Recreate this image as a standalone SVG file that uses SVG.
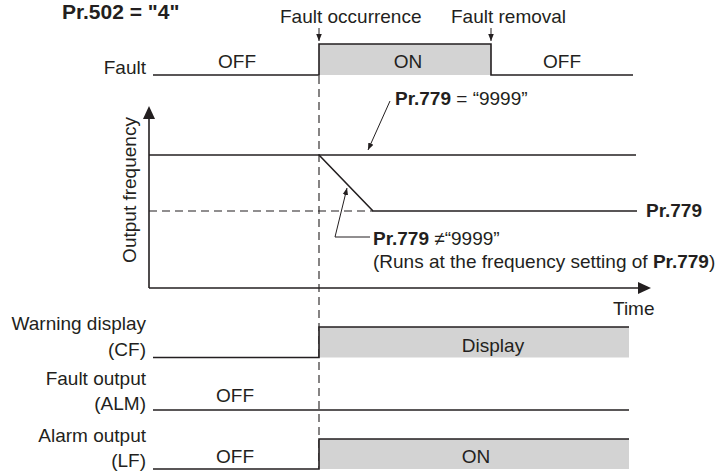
<svg xmlns="http://www.w3.org/2000/svg" width="726" height="473" viewBox="0 0 726 473">
<defs>
<style>
text{font-family:"Liberation Sans",Arial,sans-serif;font-size:19px;fill:#231f20}
.b{font-weight:bold}
.ln{fill:none;stroke:#231f20;stroke-width:1.6}
.thin{fill:none;stroke:#231f20;stroke-width:1}
.dash{fill:none;stroke:#231f20;stroke-width:1.1;stroke-dasharray:8 5}
.sh{fill:#d3d3d3;stroke:none}
.mid{text-anchor:middle}
.end{text-anchor:end}
</style>
<marker id="ah" viewBox="0 0 10 10" refX="10" refY="5" markerWidth="7" markerHeight="7" markerUnits="userSpaceOnUse" orient="auto">
<path d="M0,1 L10,5 L0,9 Z" fill="#231f20"/>
</marker>
</defs>
<rect width="726" height="473" fill="#fff"/>

<g id="title">
<text x="62" y="19" class="b" style="font-size:21px">Pr.502 = "4"</text>
</g>

<g id="events">
<text x="280" y="23">Fault occurrence</text>
<text x="451" y="23">Fault removal</text>
<line class="thin" x1="319" y1="28" x2="319" y2="41" marker-end="url(#ah)"/>
<line class="thin" x1="491" y1="28" x2="491" y2="41" marker-end="url(#ah)"/>
</g>

<g id="guide">
<line class="dash" x1="319" y1="76" x2="319" y2="469"/>
</g>

<g id="fault-row">
<rect class="sh" x="319" y="44" width="172" height="31"/>
<path class="ln" d="M153,75 H319 V44 H491 V75 H633"/>
<text x="146" y="74" class="end">Fault</text>
<text x="237" y="68" class="mid">OFF</text>
<text x="408" y="68" class="mid">ON</text>
<text x="562" y="68" class="mid">OFF</text>
</g>

<g id="frequency-chart">
<line class="ln" x1="149" y1="118" x2="149" y2="288"/>
<path d="M149,106 L143,119 L155,119 Z" fill="#231f20"/>
<line class="ln" x1="149" y1="288" x2="639" y2="288"/>
<path d="M651,288 L638,282 L638,294 Z" fill="#231f20"/>
<text x="613" y="315">Time</text>
<text transform="translate(136,190) rotate(-90)" class="mid">Output frequency</text>
<line class="ln" x1="149" y1="155" x2="636" y2="155"/>
<line class="dash" x1="149" y1="211" x2="373" y2="211"/>
<path class="ln" d="M319,155 L373,211 H637"/>
<text x="646" y="217" class="b">Pr.779</text>
</g>

<g id="connectors">
<line class="thin" x1="390" y1="101" x2="368" y2="150" marker-end="url(#ah)"/>
<polyline class="thin" points="370,237 335,237 347,188" marker-end="url(#ah)"/>
</g>

<g id="labels">
<text x="395" y="105"><tspan class="b">Pr.779</tspan> = “9999”</text>
<text x="373" y="245"><tspan class="b">Pr.779</tspan> ≠“9999”</text>
<text x="373" y="268">(Runs at the frequency setting of <tspan class="b">Pr.779</tspan>)</text>
</g>

<g id="cf-row">
<rect class="sh" x="319" y="327" width="310" height="30.5"/>
<path class="ln" d="M153,357.5 H319 V327 H629"/>
<text x="146" y="330" class="end">Warning display</text>
<text x="146" y="356" class="end">(CF)</text>
<text x="493" y="352" class="mid">Display</text>
</g>

<g id="alm-row">
<path class="ln" d="M153,410 H629"/>
<text x="146" y="385" class="end">Fault output</text>
<text x="146" y="410" class="end">(ALM)</text>
<text x="235" y="402" class="mid">OFF</text>
</g>

<g id="lf-row">
<rect class="sh" x="319" y="439" width="310" height="30"/>
<path class="ln" d="M153,469 H319 V439 H629"/>
<text x="146" y="442" class="end">Alarm output</text>
<text x="146" y="467" class="end">(LF)</text>
<text x="235" y="463" class="mid">OFF</text>
<text x="476" y="463" class="mid">ON</text>
</g>
</svg>
